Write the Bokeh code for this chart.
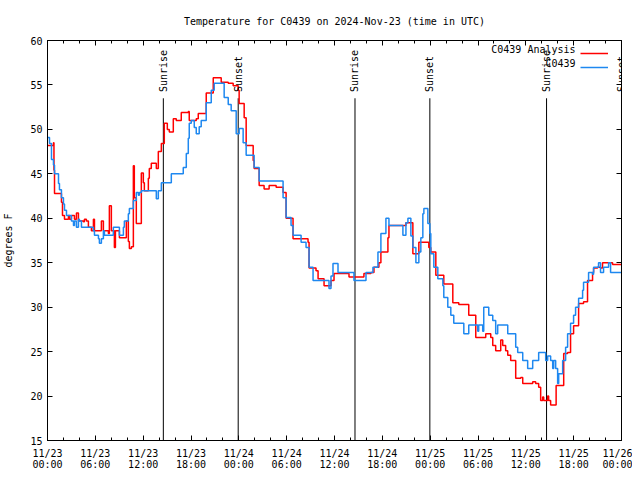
import math
from bokeh.plotting import figure
from bokeh.models import (Range1d, LinearAxis, FixedTicker, ColumnDataSource,
                          Label, Legend, LegendItem)
from bokeh.embed import file_html
from bokeh.resources import INLINE

FONT = "DejaVu Sans Mono"
FS = "10px"

TITLE = "Temperature for C0439 on 2024-Nov-23 (time in UTC)"
Y_LABEL = "degrees F"
SERIES_NAMES = ["C0439 Analysis", "C0439"]

# x tick positions (hours since 2024-11-23 00:00 UTC) and labels
tick_hours = [0, 6, 12, 18, 24, 30, 36, 42, 48, 54, 60, 66, 72]
tick_labels = ["11/23\n00:00", "11/23\n06:00", "11/23\n12:00", "11/23\n18:00",
               "11/24\n00:00", "11/24\n06:00", "11/24\n12:00", "11/24\n18:00",
               "11/25\n00:00", "11/25\n06:00", "11/25\n12:00", "11/25\n18:00",
               "11/26\n00:00"]
minor_hours = list(range(0, 73, 2))
y_ticks = [15, 20, 25, 30, 35, 40, 45, 50, 55, 60]

# sunrise / sunset events (hours)
event_hours = [14.53, 23.92, 38.57, 47.96, 62.6, 72.0]
event_names = ["Sunrise", "Sunset", "Sunrise", "Sunset", "Sunrise", "Sunset"]

# C0439 observations (hours, deg F)
obs_hours = [0.0, 0.25, 0.5, 0.75, 0.88, 1.38, 1.5, 1.75, 2.0, 2.13, 2.38, 3.0, 3.26, 3.38,
             3.63, 3.88, 4.0, 4.26, 5.76, 5.89, 6.39, 6.51, 6.76, 7.01, 7.14, 8.26, 9.02,
             9.52, 9.64, 10.14, 10.27, 10.77, 11.14, 11.4, 11.52, 11.77, 13.65, 13.9, 14.28,
             15.53, 17.03, 17.41, 17.66, 17.78, 18.03, 18.41, 18.66, 19.03, 19.28, 19.91,
             20.54, 20.91, 21.91, 22.16, 22.67, 23.04, 23.67, 24.04, 24.54, 24.92, 25.92,
             26.55, 29.05, 29.55, 29.93, 30.55, 30.8, 31.81, 32.43, 32.81, 33.31, 34.94,
             35.31, 35.56, 35.81, 36.44, 38.44, 39.95, 40.82, 41.45, 41.82, 42.45, 42.83,
             44.33, 44.58, 44.96, 45.21, 45.58, 45.83, 46.21, 46.58, 46.83, 47.08, 47.21,
             47.71, 47.96, 48.08, 48.46, 48.96, 49.59, 49.71, 50.21, 50.59, 50.96, 52.22,
             52.84, 53.97, 54.09, 54.59, 54.72, 55.22, 55.35, 55.85, 56.22, 56.47, 57.73,
             58.73, 58.98, 59.61, 60.23, 60.86, 61.61, 62.49, 62.74, 63.11, 63.37, 63.49,
             63.74, 63.99, 64.12, 64.62, 64.99, 65.24, 65.61, 65.99, 66.24, 66.62, 67.12,
             67.24, 67.87, 68.37, 68.5, 69.12, 69.37, 69.75, 70.38, 70.63, 72.0]
obs_temp = [49.1, 48.4, 46.6, 46.0, 45.0, 43.9, 43.2, 42.3, 41.6, 40.9, 40.3, 39.7, 39.2, 39.7,
            39.0, 39.9, 39.7, 39.0, 38.6, 38.1, 37.7, 37.2, 37.7, 38.6, 38.1, 39.0, 38.1,
            39.0, 39.7, 40.5, 41.1, 42.0, 42.9, 42.6, 42.9, 43.1, 42.2, 43.1, 44.0,
            45.0, 45.7, 47.3, 49.0, 50.7, 51.0, 50.2, 49.5, 50.3, 51.0, 53.0,
            54.4, 55.2, 55.2, 53.6, 52.8, 52.1, 49.5, 50.1, 48.5, 47.1, 45.7,
            44.2, 44.2, 42.3, 40.1, 39.2, 38.1, 37.3, 36.7, 34.5, 33.0, 33.0,
            32.1, 33.5, 34.9, 33.9, 33.0, 33.9, 34.5, 36.2, 38.3, 40.0, 39.2,
            39.2, 38.1, 39.5, 40.0, 38.0, 36.7, 35.0, 36.2, 37.8, 40.5, 41.1,
            39.4, 38.3, 36.0, 34.5, 33.2, 32.4, 31.1, 30.0, 29.1, 28.2, 27.0,
            28.0, 27.3, 28.0, 27.3, 30.0, 30.0, 29.1, 28.5, 27.0, 28.0, 27.0,
            25.5, 24.9, 24.0, 23.1, 24.0, 24.9, 24.0, 24.5, 24.0, 23.1, 24.0,
            23.1, 21.4, 22.5, 24.0, 25.5, 27.0, 28.2, 29.1, 30.0, 31.0, 31.9,
            32.8, 33.9, 33.7, 34.5, 35.0, 33.9, 34.5, 35.0, 33.9, 33.9]

# C0439 Analysis (hours, deg F)
ana_hours = [0.0, 0.75, 0.81, 0.88, 1.75, 1.88, 2.13, 2.63, 2.76, 3.0, 3.38, 3.63, 3.88, 4.51,
             4.63, 4.88, 5.13, 5.51, 5.76, 5.89, 6.76, 7.01, 7.64, 7.76, 8.01, 8.39, 8.52,
             9.02, 9.89, 10.14, 10.27, 10.52, 10.77, 10.89, 11.14, 11.77, 12.02, 12.15,
             12.65, 12.77, 13.02, 13.65, 13.9, 14.28, 14.65, 15.03, 15.28, 15.78, 16.15,
             16.78, 17.66, 17.78, 18.66, 18.91, 19.66, 19.91, 20.66, 20.79, 21.54, 21.79,
             22.67, 23.29, 23.92, 24.04, 24.67, 24.92, 25.8, 25.92, 26.55, 27.17, 27.8,
             28.68, 29.55, 29.93, 30.8, 32.68, 32.81, 33.68, 33.94, 34.69, 35.56, 35.94,
             37.82, 39.69, 40.57, 40.95, 41.57, 41.82, 42.7, 42.83, 44.96, 45.83, 46.58,
             47.83, 48.08, 48.71, 49.71, 50.84, 51.59, 52.84, 53.72, 54.97, 55.6, 55.85,
             56.22, 56.85, 57.1, 57.47, 57.73, 58.1, 58.73, 59.36, 59.61, 60.86, 61.23,
             61.61, 61.86, 62.11, 62.24, 62.74, 62.86, 63.11, 63.8, 64.75, 65.24, 65.61,
             65.99, 66.62, 67.24, 67.74, 68.37, 68.5, 69.0, 69.37, 69.62, 70.88, 72.0]
ana_temp = [48.2, 48.5, 45.4, 42.8, 41.8, 40.3, 39.9, 40.3, 39.9, 40.3, 39.9, 40.6, 39.7, 39.6,
            39.9, 39.7, 39.0, 38.6, 39.9, 38.6, 39.7, 38.6, 38.3, 41.4, 38.6, 36.7, 38.6,
            37.8, 39.7, 37.4, 36.6, 36.8, 45.9, 42.3, 39.4, 45.1, 44.0, 43.1,
            44.5, 45.6, 46.2, 45.6, 47.5, 48.4, 50.7, 50.0, 49.7, 51.2, 51.0,
            51.9, 52.0, 51.0, 51.2, 51.8, 51.8, 54.1, 54.1, 55.8, 55.8, 55.3,
            55.2, 54.9, 54.4, 52.9, 51.3, 48.2, 46.5, 45.6, 43.7, 43.3, 43.7,
            43.5, 42.9, 40.0, 37.7, 37.3, 34.4, 34.1, 33.2, 32.4, 33.0, 33.8,
            33.4, 33.8, 33.9, 34.5, 35.0, 36.2, 37.8, 39.2, 39.5, 36.0, 37.3,
            36.7, 36.2, 33.6, 32.6, 30.5, 30.3, 29.1, 26.6, 27.0, 26.6, 25.7,
            25.1, 26.3, 25.7, 25.1, 24.6, 24.0, 22.0, 22.1, 21.4, 21.6, 21.4,
            21.0, 19.5, 19.9, 19.5, 20.0, 19.5, 19.0, 21.2, 24.8, 24.9, 27.0,
            27.9, 30.4, 30.6, 33.0, 33.9, 34.4, 34.5, 34.4, 35.0, 34.8, 34.8]

X_START, X_END = 0, 72
Y_START, Y_END = 15, 60

p = figure(width=632, height=472, output_backend="svg", toolbar_location=None,
           x_range=Range1d(X_START, X_END), y_range=Range1d(Y_START, Y_END),
           min_border_left=46, min_border_right=11, min_border_top=40,
           min_border_bottom=32, title=TITLE)
p.title.text_font = FONT
p.title.text_font_size = FS
p.title.text_font_style = "normal"
p.title.text_color = "black"
p.title.align = "center"
p.title.standoff = 27
p.grid.visible = False
p.outline_line_color = "black"
p.outline_line_width = 1
p.background_fill_color = "white"
p.border_fill_color = "white"


def style_axis(ax, show_labels, ticks):
    ax.major_tick_in = 5
    ax.major_tick_out = 0
    ax.minor_tick_in = 3
    ax.minor_tick_out = 0
    ax.axis_line_color = "black"
    ax.major_tick_line_color = "black"
    ax.minor_tick_line_color = "black"
    ax.major_label_text_font = FONT
    ax.major_label_text_font_size = FS
    ax.major_label_text_color = "black"
    ax.axis_label_text_font = FONT
    ax.axis_label_text_font_size = FS
    ax.axis_label_text_font_style = "normal"
    ax.axis_label_text_color = "black"
    if not show_labels:
        ax.major_label_overrides = {t: "" for t in ticks}
        ax.major_label_standoff = 0


xt = FixedTicker(ticks=tick_hours, minor_ticks=minor_hours)
yt = FixedTicker(ticks=y_ticks, minor_ticks=[])

xa = p.xaxis[0]
xa.ticker = xt
style_axis(xa, True, tick_hours)
xa.major_label_overrides = {h: lab for h, lab in zip(tick_hours, tick_labels)}
xa.major_label_standoff = 7
xa.major_label_text_line_height = 1.0

ya = p.yaxis[0]
ya.ticker = yt
ya.axis_label = Y_LABEL
style_axis(ya, True, y_ticks)
ya.major_label_standoff = 5
ya.axis_label_standoff = 13

top = LinearAxis(ticker=FixedTicker(ticks=tick_hours, minor_ticks=minor_hours))
style_axis(top, False, tick_hours)
p.add_layout(top, "above")
right = LinearAxis(ticker=FixedTicker(ticks=y_ticks, minor_ticks=[]))
style_axis(right, False, y_ticks)
p.add_layout(right, "right")

# sunrise/sunset markers
ev = ColumnDataSource(dict(hour=event_hours, name=event_names,
                           bottom=[Y_START] * len(event_hours),
                           top=[53.5] * len(event_hours)))
p.segment(x0="hour", y0="bottom", x1="hour", y1="top", source=ev,
          line_color="black", line_width=1)
for h, name in zip(event_hours, event_names):
    p.add_layout(Label(x=h, y=54.2, text=name, angle=math.pi / 2,
                       text_align="left", text_baseline="middle",
                       text_font=FONT, text_font_size=FS, text_color="black"))

r_ana = p.step(ana_hours, ana_temp, mode="after", line_color="#ff0000", line_width=1.5)
r_obs = p.step(obs_hours, obs_temp, mode="after", line_color="#1e88f0", line_width=1.5)

legend = Legend(items=[LegendItem(label=" ", renderers=[r_ana]),
                       LegendItem(label=" ", renderers=[r_obs])],
                location=(533, 368), padding=0, margin=0, spacing=4,
                glyph_width=28, glyph_height=10, label_height=10, label_width=0,
                label_standoff=0, label_text_font_size="1px",
                border_line_alpha=0, background_fill_alpha=0)
p.add_layout(legend)

for i, name in enumerate(SERIES_NAMES):
    p.add_layout(Label(x=66.24, y=58.99 - i * 1.58, text=name, text_align="right",
                       text_baseline="middle", text_font=FONT, text_font_size=FS,
                       text_color="black"))

open("out.html", "w").write(file_html(p, INLINE))
